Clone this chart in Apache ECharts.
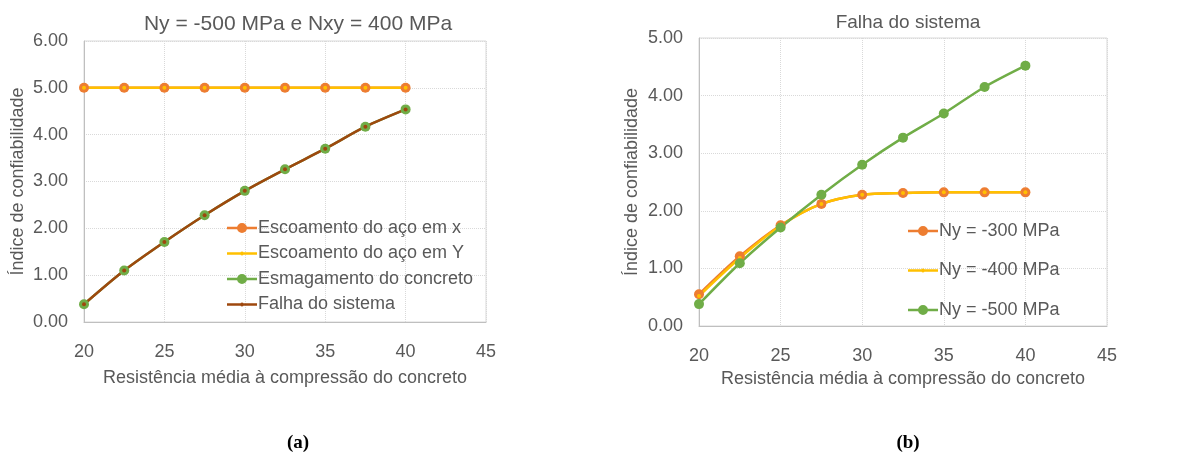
<!DOCTYPE html>
<html>
<head>
<meta charset="utf-8">
<script src="https://cdn.jsdelivr.net/npm/echarts@6/dist/echarts.min.js"></script>
<style>
html,body{margin:0;padding:0;background:#fff;}
#c{width:1195px;height:460px;}
</style>
</head>
<body>
<div id="c"></div>
<script>
// ---- data ----
var xValues = [20, 22.5, 25, 27.5, 30, 32.5, 35, 37.5, 40];
// chart (a)
var escoamentoX = [5.00, 5.00, 5.00, 5.00, 5.00, 5.00, 5.00, 5.00, 5.00];
var escoamentoY = [5.00, 5.00, 5.00, 5.00, 5.00, 5.00, 5.00, 5.00, 5.00];
var esmagamento = [0.38, 1.10, 1.71, 2.28, 2.80, 3.26, 3.70, 4.17, 4.54];
var falhaSistema = [0.38, 1.10, 1.71, 2.28, 2.80, 3.26, 3.70, 4.17, 4.54];
// chart (b)
var ny300 = [0.55, 1.21, 1.75, 2.12, 2.28, 2.31, 2.32, 2.32, 2.32];
var ny400 = [0.52, 1.18, 1.74, 2.12, 2.28, 2.31, 2.32, 2.32, 2.32];
var ny500 = [0.38, 1.09, 1.71, 2.28, 2.80, 3.27, 3.69, 4.15, 4.52];
var xTicks = [20, 25, 30, 35, 40, 45];
var yTicksA = [0, 1, 2, 3, 4, 5, 6];
var yTicksB = [0, 1, 2, 3, 4, 5];

var namesA = ['Escoamento do aço em x', 'Escoamento do aço em Y', 'Esmagamento do concreto', 'Falha do sistema'];
var namesB = ['Ny = -300 MPa', 'Ny = -400 MPa', 'Ny = -500 MPa'];
var titleA = 'Ny = -500 MPa e Nxy = 400 MPa';
var titleB = 'Falha do sistema';
var xName = 'Resistência média à compressão do concreto';
var yName = 'Índice de confiabilidade';

var FONT = "'Liberation Sans', Arial, sans-serif";
var TXT = '#595959';
var C_OR = '#ED7D31', C_YE = '#FFC000', C_GR = '#70AD47', C_BR = '#9E480E';

// legend icons: line with big dot / small dot (box 30 x 10), no overlapping subpaths
var ICON_BIG = 'path://M0,0 M30,10 M0,3.8 L10.2,3.8 L10.2,6.2 L0,6.2 Z M19.8,3.8 L30,3.8 L30,6.2 L19.8,6.2 Z M10,5 A5,5 0 1,1 20,5 A5,5 0 1,1 10,5 Z';
var ICON_SMALL = 'path://M0,0 M30,10 M0,3.8 L13.2,3.8 L13.2,6.2 L0,6.2 Z M16.8,3.8 L30,3.8 L30,6.2 L16.8,6.2 Z M13,5 A2,2 0 1,1 17,5 A2,2 0 1,1 13,5 Z';

function pairs(ys) { return xValues.map(function (x, i) { return [x, ys[i]]; }); }

function xAxis(gi, gap) {
  return {
    type: 'value', gridIndex: gi,
    min: xTicks[0], max: xTicks[xTicks.length - 1], interval: 5,
    name: xName, nameLocation: 'middle', nameGap: gap,
    nameTextStyle: { color: TXT, fontFamily: FONT, fontSize: 18 },
    axisLine: { show: true, lineStyle: { color: '#BFBFBF', width: 1 } },
    axisTick: { show: false },
    axisLabel: { color: TXT, fontFamily: FONT, fontSize: 18, margin: 21 },
    splitLine: { show: true, lineStyle: { color: '#D9D9D9', type: 'dotted', width: 1 } }
  };
}
function yAxis(gi, ticks, gap) {
  return {
    type: 'value', gridIndex: gi,
    min: ticks[0], max: ticks[ticks.length - 1], interval: 1,
    name: yName, nameLocation: 'middle', nameGap: gap,
    nameTextStyle: { color: TXT, fontFamily: FONT, fontSize: 18 },
    axisLine: { show: true, lineStyle: { color: '#BFBFBF', width: 1 } },
    axisTick: { show: false },
    axisLabel: { color: TXT, fontFamily: FONT, fontSize: 18, margin: 16,
      formatter: function (v) { return v.toFixed(2); } },
    splitLine: { show: true, lineStyle: { color: '#D9D9D9', type: 'dotted', width: 1 } }
  };
}
function line(name, data, color, gi, sym, smooth) {
  return {
    type: 'line', name: name, data: pairs(data), xAxisIndex: gi, yAxisIndex: gi,
    smooth: smooth, symbol: 'circle', symbolSize: sym, showSymbol: true,
    lineStyle: { color: color, width: 2.5 }, itemStyle: { color: color },
    emphasis: { disabled: true }, animation: false
  };
}

var chart = echarts.init(document.getElementById('c'));
chart.setOption({
  backgroundColor: '#fff',
  animation: false,
  title: [
    { text: titleA, left: 293, top: 9, textAlign: 'center',
      textStyle: { color: TXT, fontFamily: FONT, fontSize: 21, fontWeight: 'normal' } },
    { text: titleB, left: 903, top: 8, textAlign: 'center',
      textStyle: { color: TXT, fontFamily: FONT, fontSize: 19, fontWeight: 'normal' } },
    { text: '(a)', left: 293, top: 429, textAlign: 'center',
      textStyle: { color: '#000', fontFamily: "'Liberation Serif', 'Times New Roman', serif", fontSize: 19, fontWeight: 'bold' } },
    { text: '(b)', left: 903, top: 429, textAlign: 'center',
      textStyle: { color: '#000', fontFamily: "'Liberation Serif', 'Times New Roman', serif", fontSize: 19, fontWeight: 'bold' } }
  ],
  legend: [
    { data: [
        { name: namesA[0], icon: ICON_BIG },
        { name: namesA[1], icon: ICON_SMALL },
        { name: namesA[2], icon: ICON_BIG },
        { name: namesA[3], icon: ICON_SMALL }
      ],
      orient: 'vertical', left: 222, top: 214, itemWidth: 30, itemHeight: 10, itemGap: 7.5,
      textStyle: { color: TXT, fontFamily: FONT, fontSize: 18, padding: [0, 0, 0, -4] }, selectedMode: false },
    { data: [
        { name: namesB[0], icon: ICON_BIG },
        { name: namesB[1], icon: ICON_SMALL },
        { name: namesB[2], icon: ICON_BIG }
      ],
      orient: 'vertical', left: 903, top: 217, itemWidth: 30, itemHeight: 10, itemGap: 21.5,
      textStyle: { color: TXT, fontFamily: FONT, fontSize: 18, padding: [0, 0, 0, -4] }, selectedMode: false }
  ],
  grid: [
    { left: 84, right: 709, top: 41, bottom: 138, show: true, borderColor: '#D9D9D9', borderWidth: 1 },
    { left: 699, right: 88, top: 38, bottom: 134, show: true, borderColor: '#D9D9D9', borderWidth: 1 }
  ],
  xAxis: [xAxis(0, 47), xAxis(1, 41)],
  yAxis: [yAxis(0, yTicksA, 57), yAxis(1, yTicksB, 58)],
  series: [
    line(namesA[0], escoamentoX, C_OR, 0, 10, false),
    line(namesA[1], escoamentoY, C_YE, 0, 4, false),
    line(namesA[2], esmagamento, C_GR, 0, 10, 0.3),
    line(namesA[3], falhaSistema, C_BR, 0, 4, 0.3),
    line(namesB[0], ny300, C_OR, 1, 10, 0.3),
    line(namesB[1], ny400, C_YE, 1, 4, 0.3),
    line(namesB[2], ny500, C_GR, 1, 10, 0.3)
  ]
});
</script>
</body>
</html>
